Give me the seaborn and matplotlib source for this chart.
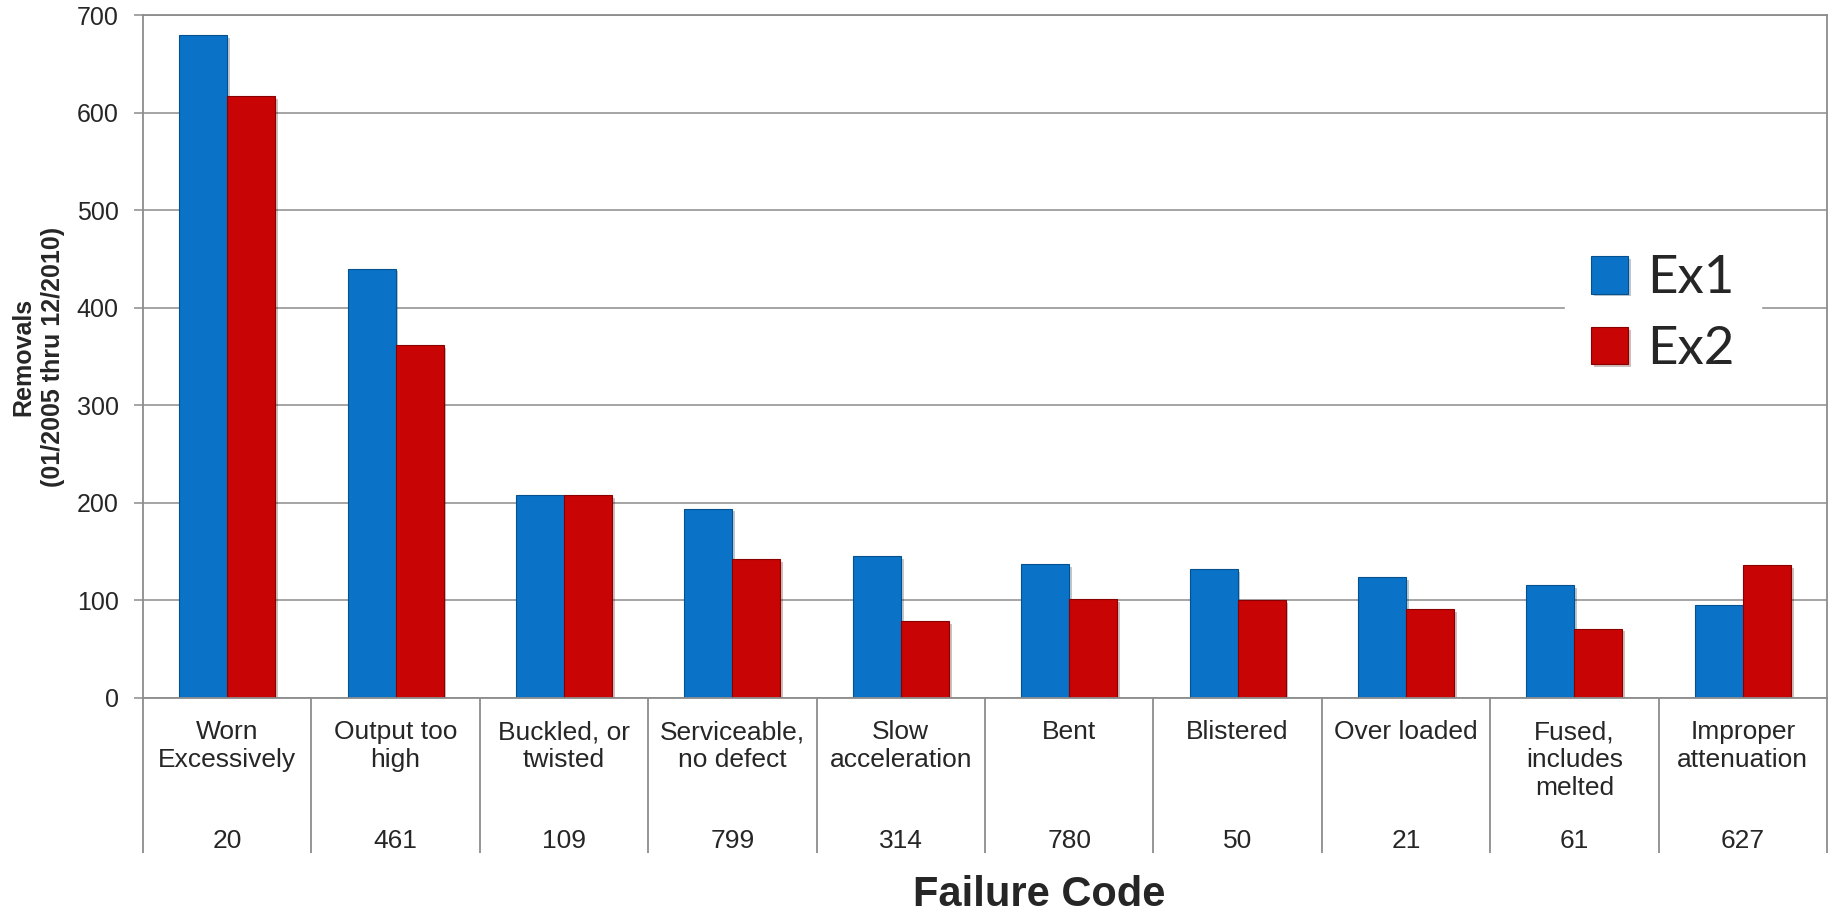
import pandas as pd
import seaborn as sns
import matplotlib.pyplot as plt
import matplotlib.patheffects as pe
from matplotlib.colors import to_hex

# data
categories = ["Worn\nExcessively", "Output too\nhigh", "Buckled, or\ntwisted",
              "Serviceable,\nno defect", "Slow\nacceleration", "Bent", "Blistered",
              "Over loaded", "Fused,\nincludes\nmelted", "Improper\nattenuation"]
codes = ["20", "461", "109", "799", "314", "780", "50", "21", "61", "627"]
ex1 = [679, 440, 208, 194, 145, 137, 132, 124, 116, 95]
ex2 = [617, 362, 208, 142, 79, 101, 100, 91, 71, 136]
series = ["Ex1", "Ex2"]

df = pd.DataFrame({
    "Failure Code": categories * 2,
    "Removals": ex1 + ex2,
    "Series": [series[0]] * len(ex1) + [series[1]] * len(ex2),
})

sns.set_style("white")
plt.rcParams["font.family"] = ["Liberation Sans", "DejaVu Sans"]

grid_col = "#8c8c8c"
blue = "#0a73c8"
red = "#c80404"
edges = {blue: "#05508f", red: "#8a0000"}

fig = plt.figure(figsize=(18.31, 9.15), dpi=100)
ax = fig.add_axes([0.0781, 0.2372, 0.9197, 0.7464])

sns.barplot(data=df, x="Failure Code", y="Removals", hue="Series",
            palette=[blue, red], width=0.57, saturation=1, ax=ax)

# darker edges and a soft shadow for a bit of depth
for bar in ax.patches:
    fc = to_hex(bar.get_facecolor())
    bar.set_edgecolor(edges.get(fc, fc))
    bar.set_linewidth(0.8)
    bar.set_path_effects([pe.SimplePatchShadow(offset=(2, -2), alpha=0.25),
                          pe.Normal()])

ax.set_ylim(0, 700)
ax.set_xlim(-0.5, len(categories) - 0.5)
ax.set_yticks(range(0, 701, 100))
ax.yaxis.grid(True, color=grid_col, linewidth=1.1)
ax.set_axisbelow(True)
for s in ax.spines.values():
    s.set_color(grid_col)
    s.set_linewidth(1.3)

ax.tick_params(axis="y", labelsize=18, length=6.5, width=1.1, color=grid_col,
               pad=11, direction="out", left=True)
ax.set_xticks(range(len(categories)))
ax.set_xticklabels(categories, fontsize=19, linespacing=1.2)
ax.tick_params(axis="x", which="major", length=0, pad=16)
# long minor ticks act as the table separators below the axis
ax.set_xticks([i - 0.5 for i in range(len(categories) + 1)], minor=True)
ax.tick_params(axis="x", which="minor", length=111.5, width=1.3,
               color=grid_col, direction="out", bottom=True)

for i, c in enumerate(codes):
    ax.text(i, -0.2196, c, transform=ax.get_xaxis_transform(),
            ha="center", va="baseline", fontsize=19)

ax.set_xlabel("")
ax.set_ylabel("Removals\n(01/2005 thru 12/2010)", fontsize=18,
              fontweight="bold", linespacing=1.3)
ax.yaxis.set_label_coords(-0.0463, 0.5)

fig.text(0.5675, 0.01, "Failure Code", ha="center", va="baseline",
         fontsize=30, fontweight="bold")

leg = ax.legend(loc="center left", bbox_to_anchor=(0.8444, 0.562),
                borderaxespad=0, frameon=True, framealpha=1,
                facecolor="white", edgecolor="white", fancybox=False,
                prop={"family": "Lato", "size": 38},
                handlelength=0.7, handleheight=0.72, handletextpad=0.35,
                labelspacing=0.45, borderpad=0.5)

fig.savefig("out.png", dpi=100)
